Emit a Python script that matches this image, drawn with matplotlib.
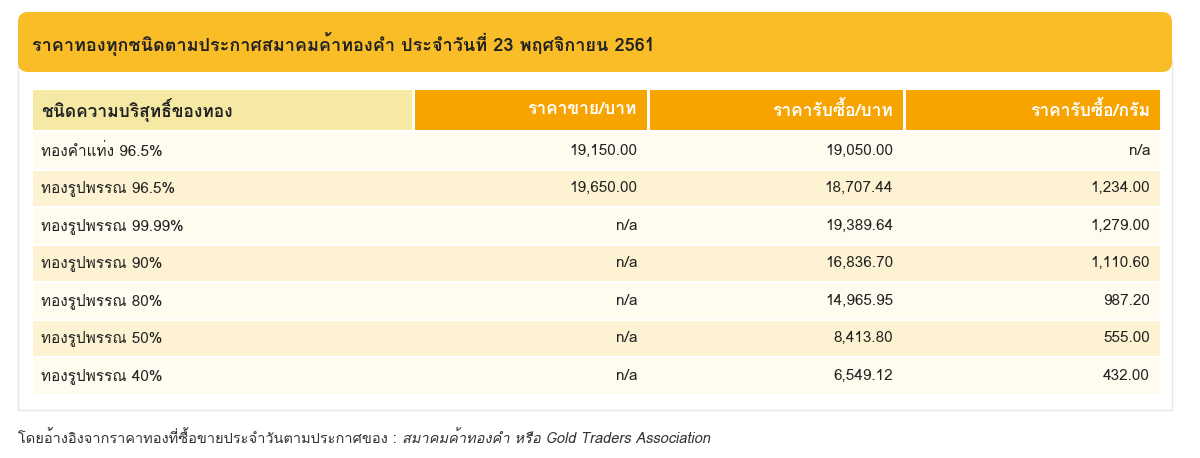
import matplotlib
matplotlib.use("Agg")
import matplotlib.pyplot as plt
from matplotlib import font_manager
from matplotlib.ft2font import FT2Font
from matplotlib.patches import FancyBboxPatch, Rectangle

# look for any installed family that has Thai glyphs
thai = []
for f in font_manager.fontManager.ttflist:
    try:
        if 0x0E01 in FT2Font(f.fname).get_charmap() and f.name not in thai:
            thai.append(f.name)
    except Exception:
        pass
plt.rcParams['font.family'] = thai + ['Noto Sans', 'DejaVu Sans']

title = "ราคาทองทุกชนิดตามประกาศสมาคมค้าทองคำ ประจำวันที่ 23 พฤศจิกายน 2561"
headers = ["ชนิดความบริสุทธิ์ของทอง", "ราคาขาย/บาท", "ราคารับซื้อ/บาท", "ราคารับซื้อ/กรัม"]
gold_types = ["ทองคำแท่ง 96.5%", "ทองรูปพรรณ 96.5%", "ทองรูปพรรณ 99.99%", "ทองรูปพรรณ 90%",
              "ทองรูปพรรณ 80%", "ทองรูปพรรณ 50%", "ทองรูปพรรณ 40%"]
sell_baht = ["19,150.00", "19,650.00", "n/a", "n/a", "n/a", "n/a", "n/a"]
buy_baht = ["19,050.00", "18,707.44", "19,389.64", "16,836.70", "14,965.95", "8,413.80", "6,549.12"]
buy_gram = ["n/a", "1,234.00", "1,279.00", "1,110.60", "987.20", "555.00", "432.00"]
footer = "โดยอ้างอิงจากราคาทองที่ซื้อขายประจำวันตามประกาศของ : "
footer_src = "สมาคมค้าทองคำ หรือ Gold Traders Association"

fig = plt.figure(figsize=(12, 4.58), dpi=100)
ax = fig.add_axes([0, 0, 1, 1])
ax.set_xlim(0, 1200)
ax.set_ylim(458, 0)
ax.axis('off')

# title banner and table box
ax.add_patch(Rectangle((18, 60), 1154, 350, fc='white', ec='#E6E6E6', lw=1))
ax.add_patch(FancyBboxPatch((18, 12), 1154, 60, boxstyle="round,pad=0,rounding_size=10",
                            fc='#F9BD27', ec='none'))
ax.text(32, 44, title, fontsize=13, fontweight='bold', va='center', color='#222222')

cols = [(33, 412), (415, 647), (650, 903), (906, 1160)]
head_y, head_h = 90, 40
for i, (x0, x1) in enumerate(cols):
    ax.add_patch(Rectangle((x0, head_y), x1 - x0, head_h,
                           fc='#F5E9A3' if i == 0 else '#F7A400', ec='none'))
    if i == 0:
        ax.text(x0 + 8, head_y + head_h / 2, headers[i], fontsize=12.5, fontweight='bold',
                va='center', color='#222222')
    else:
        ax.text(x1 - 10, head_y + head_h / 2, headers[i], fontsize=12.5, fontweight='bold',
                va='center', ha='right', color='white')

row_h = 37.5
for r, name in enumerate(gold_types):
    y = 133 + r * row_h
    ax.add_patch(Rectangle((33, y), 1127, row_h - 2,
                           fc='#FFFBEF' if r % 2 == 0 else '#FDF3D3', ec='none'))
    yc = y + row_h / 2 - 1
    ax.text(41, yc, name, fontsize=11, va='center', color='#222222')
    for (x0, x1), v in zip(cols[1:], [sell_baht[r], buy_baht[r], buy_gram[r]]):
        ax.text(x1 - 10, yc, v, fontsize=11, va='center', ha='right', color='#222222')

t = ax.text(18, 438, footer, fontsize=10.5, va='center', color='#333333')
fig.canvas.draw()
bb = t.get_window_extent()
ax.text(18 + bb.width, 438, footer_src, fontsize=10.5, va='center', style='italic', color='#333333')

fig.savefig('out.png', dpi=100)
